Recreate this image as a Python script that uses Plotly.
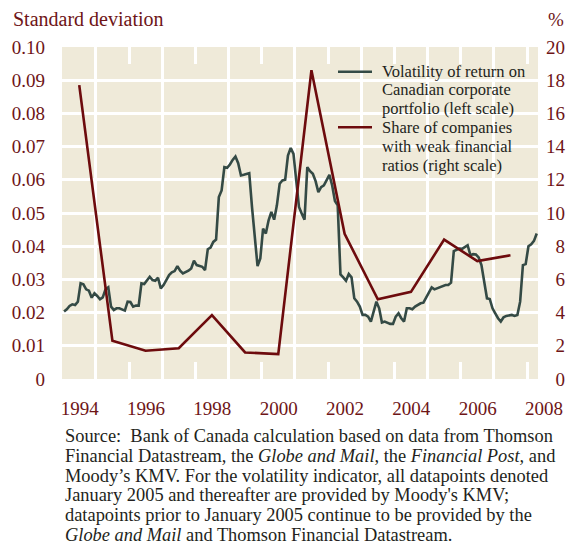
import plotly.graph_objects as go

# ---------------- data ----------------
vol_start_year = 1994  # monthly, Jan 1994 - Apr 2008
vol_1994 = [0.0203, 0.0210, 0.0220, 0.0225, 0.0223, 0.0233, 0.0288, 0.0285, 0.0270, 0.0266, 0.0245, 0.0258]
vol_1995 = [0.0250, 0.0240, 0.0246, 0.0270, 0.0276, 0.0218, 0.0208, 0.0213, 0.0213, 0.0210, 0.0206, 0.0233]
vol_1996 = [0.0232, 0.0218, 0.0221, 0.0221, 0.0288, 0.0286, 0.0298, 0.0308, 0.0298, 0.0296, 0.0305, 0.0273]
vol_1997 = [0.0283, 0.0298, 0.0313, 0.0321, 0.0325, 0.0340, 0.0326, 0.0318, 0.0321, 0.0326, 0.0333, 0.0356]
vol_1998 = [0.0343, 0.0341, 0.0338, 0.0328, 0.0391, 0.0396, 0.0413, 0.0420, 0.0548, 0.0568, 0.0638, 0.0636]
vol_1999 = [0.0646, 0.0660, 0.0670, 0.0650, 0.0613, 0.0615, 0.0618, 0.0620, 0.0518, 0.0428, 0.0340, 0.0363]
vol_2000 = [0.0453, 0.0438, 0.0478, 0.0503, 0.0480, 0.0523, 0.0588, 0.0598, 0.0600, 0.0673, 0.0696, 0.0678]
vol_2001 = [0.0590, 0.0518, 0.0498, 0.0480, 0.0638, 0.0626, 0.0618, 0.0596, 0.0563, 0.0578, 0.0583, 0.0600]
vol_2002 = [0.0615, 0.0583, 0.0536, 0.0523, 0.0315, 0.0306, 0.0296, 0.0316, 0.0306, 0.0243, 0.0233, 0.0218]
vol_2003 = [0.0193, 0.0193, 0.0188, 0.0173, 0.0200, 0.0233, 0.0213, 0.0170, 0.0173, 0.0170, 0.0166, 0.0166]
vol_2004 = [0.0188, 0.0198, 0.0183, 0.0173, 0.0213, 0.0213, 0.0210, 0.0218, 0.0223, 0.0228, 0.0230, 0.0246]
vol_2005 = [0.0258, 0.0276, 0.0270, 0.0273, 0.0275, 0.0278, 0.0283, 0.0283, 0.0290, 0.0385, 0.0388, 0.0393]
vol_2006 = [0.0392, 0.0398, 0.0403, 0.0373, 0.0376, 0.0375, 0.0366, 0.0343, 0.0298, 0.0243, 0.0241, 0.0213]
vol_2007 = [0.0198, 0.0183, 0.0173, 0.0186, 0.0190, 0.0192, 0.0193, 0.0190, 0.0193, 0.0233, 0.0343, 0.0346]
vol_2008 = [0.0400, 0.0406, 0.0416, 0.0438]

weak_years = [1994, 1995, 1996, 1997, 1998, 1999, 2000, 2001, 2002, 2003, 2004, 2005, 2006, 2007]
weak_share = [17.7, 2.3, 1.7, 1.85, 3.85, 1.6, 1.5, 18.6, 8.75, 4.8, 5.25, 8.4, 7.1, 7.45]

left_ticks = [0, 0.01, 0.02, 0.03, 0.04, 0.05, 0.06, 0.07, 0.08, 0.09, 0.10]
left_labels = ["0", "0.01", "0.02", "0.03", "0.04", "0.05", "0.06", "0.07", "0.08", "0.09", "0.10"]
right_ticks = [0, 2, 4, 6, 8, 10, 12, 14, 16, 18, 20]
year_ticks = [1994, 1996, 1998, 2000, 2002, 2004, 2006, 2008]
grid_years = [1995, 1997, 1999, 2001, 2003, 2005, 2007]

vol = (vol_1994 + vol_1995 + vol_1996 + vol_1997 + vol_1998 + vol_1999 + vol_2000 +
       vol_2001 + vol_2002 + vol_2003 + vol_2004 + vol_2005 + vol_2006 + vol_2007 + vol_2008)
vol_x = [vol_start_year + (i + 0.5) / 12 for i in range(len(vol))]
weak_x = [y + 0.5 for y in weak_years]
# right-aligned right-axis labels (figure space pads single digits)
right_labels = [("\u2007" + str(v)) if v < 10 else str(v) for v in right_ticks]

# ---------------- style ----------------
FONT = "Liberation Serif"
RED_TXT = "#6e1517"
GREEN = "#344a45"
RED = "#6d0b0d"
BEIGE = "#efead9"
TXT = "#231f20"

fig = go.Figure()
fig.add_trace(go.Scatter(x=vol_x, y=vol, mode="lines", line=dict(color=GREEN, width=2.6),
                         name="Volatility", showlegend=False, yaxis="y"))
fig.add_trace(go.Scatter(x=weak_x, y=weak_share, mode="lines", line=dict(color=RED, width=2.6),
                         name="Share", showlegend=False, yaxis="y2"))

fig.update_layout(
    width=569, height=544,
    margin=dict(l=62, r=31, t=47, b=165, autoexpand=False),
    paper_bgcolor="white", plot_bgcolor=BEIGE,
    font=dict(family=FONT, color=RED_TXT, size=19),
    xaxis=dict(range=[1993.98, 2008.33], tickmode="array", tickvals=year_ticks,
               ticktext=[str(y) for y in year_ticks], ticklabelshift=17,
               showgrid=False, zeroline=False, automargin=False,
               showline=True, linecolor="rgba(0,0,0,0)", linewidth=1,
               ticks="inside", ticklen=17, tickwidth=2.5, tickcolor="white", mirror="ticks",
               minor=dict(tickmode="array", tickvals=grid_years, showgrid=True,
                          gridcolor="white", gridwidth=2.5, ticks=""),
               tickfont=dict(size=19, color=RED_TXT, family=FONT), ticklabelstandoff=12),
    yaxis=dict(range=[0, 0.10], tickmode="array", tickvals=left_ticks, ticktext=left_labels,
               showgrid=True, gridcolor="white", gridwidth=2.5, zeroline=False, showline=False,
               automargin=False,
               ticks="", tickfont=dict(size=19, color=RED_TXT, family=FONT), ticklabelstandoff=16),
    yaxis2=dict(range=[0, 20], tickmode="array", tickvals=right_ticks, ticktext=right_labels,
                overlaying="y", side="right", showgrid=False, zeroline=False, showline=False,
                automargin=False,
                ticks="", tickfont=dict(size=19, color=RED_TXT, family=FONT), ticklabelstandoff=7),
)

def px_x(px):
    return (px - 62) / 476.0

def px_y(py):
    return (379 - py) / 332.0

ann = []
ann.append(dict(text="Standard deviation", x=px_x(11), y=px_y(19), xref="paper", yref="paper",
                xanchor="left", yanchor="middle", showarrow=False,
                font=dict(size=20, color=RED_TXT, family=FONT)))
ann.append(dict(text="%", x=px_x(566), y=px_y(19), xref="paper", yref="paper",
                xanchor="right", yanchor="middle", showarrow=False,
                font=dict(size=19, color=RED_TXT, family=FONT)))

legend_lines = [
    ("Volatility of return on", 71.7), ("Canadian corporate", 90), ("portfolio (left scale)", 108.3),
    ("Share of companies", 127.3), ("with weak financial", 146), ("ratios (right scale)", 165),
]
for txt, py in legend_lines:
    ann.append(dict(text=txt, x=px_x(380), y=px_y(py), xref="paper", yref="paper",
                    xanchor="left", yanchor="middle", showarrow=False,
                    font=dict(size=16.5, color=TXT, family=FONT)))

source_lines = [
    "Source:  Bank of Canada calculation based on data from Thomson",
    "Financial Datastream, the <i>Globe and Mail</i>, the <i>Financial Post,</i> and",
    "Moody’s KMV. For the volatility indicator, all datapoints denoted",
    "January 2005 and thereafter are provided by Moody's KMV;",
    "datapoints prior to January 2005 continue to be provided by the",
    "<i>Globe and Mail</i> and Thomson Financial Datastream.",
]
for i, txt in enumerate(source_lines):
    ann.append(dict(text=txt, x=px_x(63), y=px_y(436 + i * 19.8), xref="paper", yref="paper",
                    xanchor="left", yanchor="middle", showarrow=False,
                    font=dict(size=18.4, color=TXT, family=FONT)))
fig.update_layout(annotations=ann)

# legend keys
fig.add_shape(type="line", xref="paper", yref="paper", x0=px_x(338), x1=px_x(372),
              y0=px_y(71.7), y1=px_y(71.7), line=dict(color=GREEN, width=2.6))
fig.add_shape(type="line", xref="paper", yref="paper", x0=px_x(338), x1=px_x(372),
              y0=px_y(127.3), y1=px_y(127.3), line=dict(color=RED, width=2.6))

fig.write_html("out.html", config={"displayModeBar": False},
               post_script="document.body.style.margin='0';document.body.style.overflow='hidden';")
